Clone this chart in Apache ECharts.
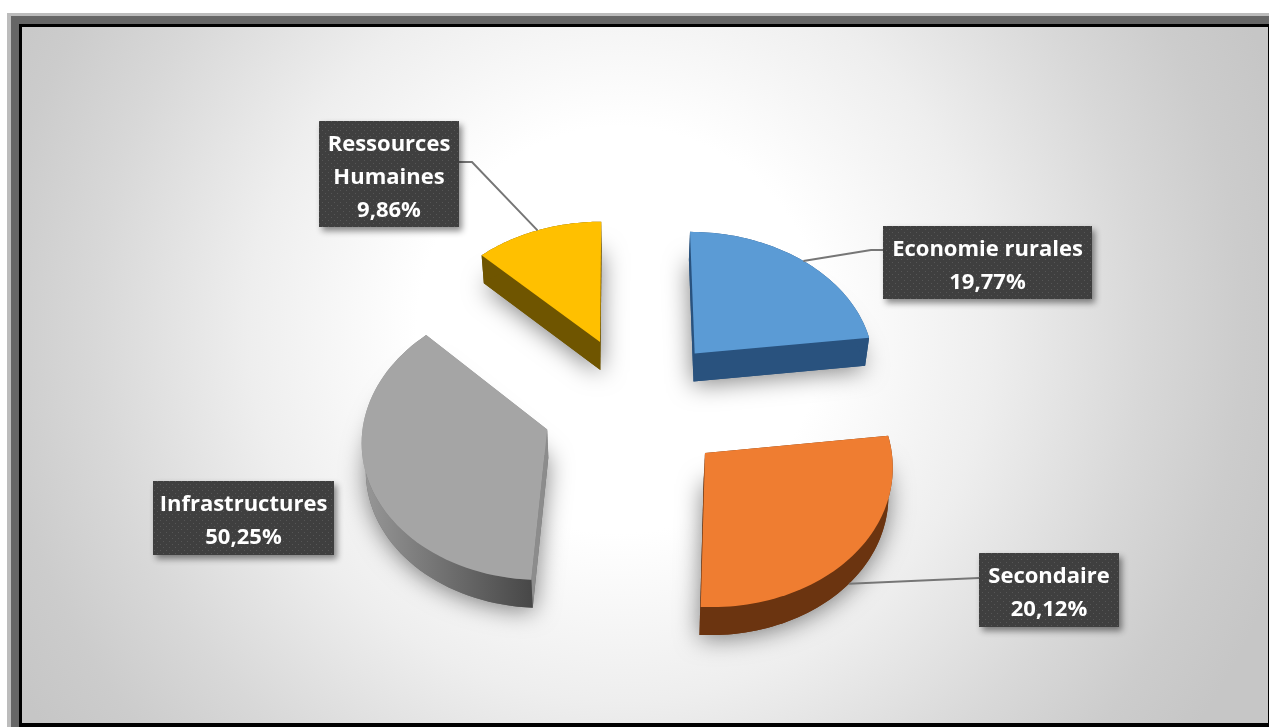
<!DOCTYPE html>
<html>
<head>
<meta charset="utf-8">
<script src="https://cdn.jsdelivr.net/npm/echarts@6/dist/echarts.min.js"></script>
<style>
html,body{margin:0;padding:0;background:#fff;width:1269px;height:727px;overflow:hidden}
.f{position:absolute}
#chart{position:absolute;left:0;top:0;width:1269px;height:727px}
</style>
</head>
<body>
<div class="f" style="left:7px;top:13px;right:0;bottom:0;background:#bcbcbc"></div>
<div class="f" style="left:11px;top:16px;right:0;bottom:0;background:#666"></div>
<div class="f" style="left:19px;top:24px;right:0;bottom:0;background:#000"></div>
<div class="f" style="left:22px;top:27px;right:1px;bottom:4px;background:radial-gradient(circle 700px at 598px 303px,#fff 0%,#fff 29%,#eeeeee 53%,#d8d8d8 75%,#cccccc 89%,#c6c6c6 100%)"></div>
<div id="chart"></div>
<script>
// Data
const categories = ['Economie rurales', 'Secondaire', 'Infrastructures', 'Ressources\nHumaines'];
const labelPercents = ['19,77%', '20,12%', '50,25%', '9,86%'];
const drawnShares = [23.06, 27.78, 36.67, 12.49];

// Styles
const topColors = ['#5b9bd5', '#ef7d31', '#a5a5a5', '#ffc000'];
const wallColors = ['#29527e', '#6b3410', '#6b6b6b', '#6f5500'];
const radialWallColors = ['#29527e', '#6b3410', '#8c8c8c', '#6f5500'];

// Label layout [left, top, right, bottom]
const labelBoxes = [[883, 226, 1092, 299], [979, 553, 1119, 627], [153, 481, 334, 555], [319, 121, 459, 227]];
const leaderBends = [[871, 250, 883, 250], null, null, [472, 162, 459, 162]];
const leaderEnds = [null, [979, 578], null, null];

// Perspective projection of the pie plane
const VIEW = {cx: 620, cy: 400, B: 182, A: 136, k: 0.068, pieU: 0.082, pieV: -0.032, explode: 0.51, depth: 28, vx: 620, vs: 0.984};
function project(u, v) {
  const w = 1 + VIEW.k * v;
  return [VIEW.cx + VIEW.B * u / w, VIEW.cy - VIEW.A * v / w];
}
function drop(p) {
  return [VIEW.vx + (p[0] - VIEW.vx) * VIEW.vs, p[1] + VIEW.depth];
}
const total = drawnShares.reduce((a, b) => a + b, 0);

function pattern() {
  const c = document.createElement('canvas');
  c.width = 6; c.height = 6;
  const g = c.getContext('2d');
  g.fillStyle = '#3f3f3f'; g.fillRect(0, 0, 6, 6);
  g.fillStyle = '#565656'; g.fillRect(1, 1, 1, 1); g.fillRect(4, 4, 1, 1);
  return c;
}
const boxFill = {image: pattern(), repeat: 'repeat'};

function renderItem(params, api) {
  const i = params.dataIndex;
  let before = 0;
  for (let j = 0; j < i; j++) before += drawnShares[j];
  const share = api.value(0);
  const a0 = before / total * 2 * Math.PI;
  const a1 = (before + share) / total * 2 * Math.PI;
  const mid = (a0 + a1) / 2;
  const ou = VIEW.pieU + VIEW.explode * Math.sin(mid);
  const ov = VIEW.pieV + VIEW.explode * Math.cos(mid);
  const apex = project(ou, ov);
  const arc = [];
  const n = 60;
  for (let s = 0; s <= n; s++) {
    const t = a0 + (a1 - a0) * s / n;
    arc.push(project(ou + Math.sin(t), ov + Math.cos(t)));
  }
  const top = [apex].concat(arc);
  const bottom = top.map(drop);
  const arcBottom = arc.map(drop);
  const midTop = project(ou + Math.sin(mid), ov + Math.cos(mid));
  const children = [];
  // soft cast shadow under the slice
  children.push({type: 'polygon', shape: {points: bottom}, style: {fill: wallColors[i], shadowBlur: 24, shadowColor: 'rgba(0,0,0,0.5)', shadowOffsetX: 0, shadowOffsetY: 3}});
  // radial walls
  [[apex, arc[0]], [apex, arc[n]]].forEach(e => {
    children.push({type: 'polygon', shape: {points: [e[0], e[1], drop(e[1]), drop(e[0])]}, style: {fill: radialWallColors[i]}});
  });
  // outer wall
  const wallFill = i === 2
    ? {type: 'linear', x: 0, y: 0, x2: 1, y2: 0, colorStops: [{offset: 0, color: '#989898'}, {offset: 0.45, color: '#737373'}, {offset: 1, color: '#474747'}]}
    : wallColors[i];
  children.push({type: 'polygon', shape: {points: arc.concat(arcBottom.slice().reverse())}, style: {fill: wallFill}});
  // top face
  children.push({type: 'polygon', shape: {points: top}, style: {fill: topColors[i]}});
  // leader line
  const b = labelBoxes[i];
  if (leaderBends[i]) {
    const lb = leaderBends[i];
    children.push({type: 'polyline', shape: {points: [midTop, [lb[0], lb[1]], [lb[2], lb[3]]]}, style: {stroke: '#767676', lineWidth: 2, fill: null}});
  }
  if (leaderEnds[i]) {
    children.push({type: 'polyline', shape: {points: [drop(midTop), leaderEnds[i]]}, style: {stroke: '#767676', lineWidth: 2, fill: null}});
  }
  // label box
  children.push({type: 'rect', shape: {x: b[0], y: b[1], width: b[2] - b[0], height: b[3] - b[1]},
    style: {fill: boxFill, shadowBlur: 6, shadowOffsetX: 3, shadowOffsetY: 4, shadowColor: 'rgba(0,0,0,0.45)'}});
  children.push({type: 'text', style: {
    x: (b[0] + b[2]) / 2, y: (b[1] + b[3]) / 2 + 3.5,
    text: categories[i] + '\n' + labelPercents[i],
    fill: '#ffffff', font: 'bold 22px "Open Sans"', lineHeight: 33,
    align: 'center', verticalAlign: 'middle'}});
  return {type: 'group', children};
}

const chart = echarts.init(document.getElementById('chart'), null, {renderer: 'canvas'});
chart.setOption({
  animation: false,
  backgroundColor: 'transparent',
  series: [{
    type: 'custom',
    coordinateSystem: 'none',
    silent: true,
    renderItem,
    data: drawnShares.map((v, i) => ({name: categories[i].replace('\n', ' '), value: [v]}))
  }]
});
</script>
</body>
</html>
